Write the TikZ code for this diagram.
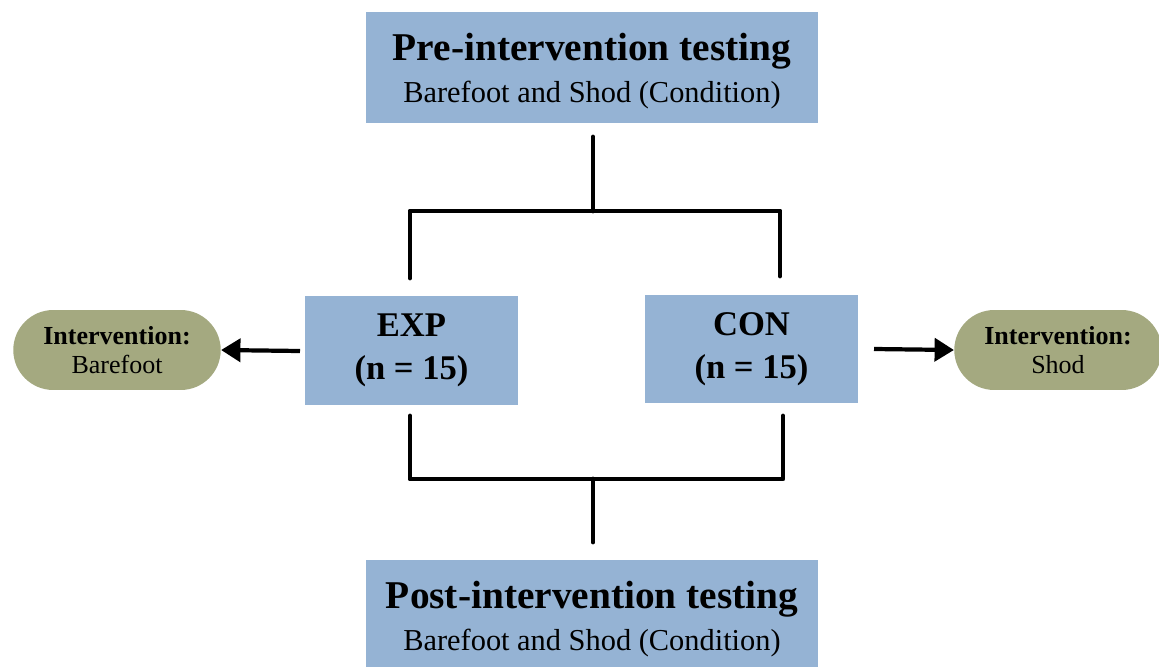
\documentclass[tikz,border=0pt]{standalone}
\usepackage{fontspec}
\setmainfont{Liberation Serif}
\usetikzlibrary{positioning}
\usetikzlibrary{arrows.meta}
\usetikzlibrary{shapes.misc}
\definecolor{boxblue}{HTML}{95B3D4}
\definecolor{pillolive}{HTML}{A4A980}
\tikzset{
        boxnode/.style={align=center,inner sep=0pt},
        % Testing boxes
        node_testing/.style={boxnode, rectangle, fill=boxblue, minimum width=9.04cm, minimum height=2.22cm, font=\fontsize{17.3}{21.5}\selectfont},
        % Group boxes
        node_group/.style={boxnode, rectangle, fill=boxblue, minimum width=4.26cm, minimum height=2.2cm, font=\fontsize{19.7}{24.5}\selectfont\bfseries},
        % Intervention pills
        node_pill/.style={boxnode, rounded rectangle, fill=pillolive, minimum width=4.15cm, minimum height=1.6cm, font=\fontsize{14.8}{16.5}\selectfont},
        % Bracket lines
        bracket/.style={line width=2.8pt, line cap=round, line join=round},
        % Arrows
        link/.style={line width=2.4pt, -{Triangle[length=11pt,width=13pt]}}
}
\newcommand{\testtitle}[2]{{\fontsize{22.4}{26}\selectfont\bfseries #1}\\[2.5pt]{#2}}
\begin{document}
\begin{tikzpicture}[x=0.02cm, y=-0.02cm]
            \useasboundingbox (0,0) rectangle (1159,666);
            \node[node_testing, text depth=0pt] (pre) at (592,67.5) {\testtitle{Pre-intervention testing}{Barefoot and Shod (Condition)}};
            \node[node_group] (exp) at (411.5,350.5) {EXP\\(n = 15)};
            \node[node_group, minimum height=2.16cm] (con) at (751.5,349) {CON\\(n = 15)};
            \node[node_pill] (barefoot) at (117,350) {\textbf{Intervention:}\\Barefoot};
            \node[node_pill] (shod) at (1058,350) {\textbf{Intervention:}\\Shod};
            \node[node_testing, minimum height=2.24cm, text depth=0pt] (post) at (592,616) {\testtitle{Post-intervention testing}{Barefoot and Shod (Condition)}};
            % upper bracket
            \coordinate (pre_stem) at (593,137);
            \coordinate (pre_join) at (593,211);
            \coordinate (exp_top) at (410,278);
            \coordinate (con_top) at (780,276);
            \draw[bracket] (pre_stem) -- (pre_join);
            \draw[bracket] (exp_top) -- (exp_top |- pre_join) -- (con_top |- pre_join) -- (con_top);
            % lower bracket
            \coordinate (exp_bot) at (410,416);
            \coordinate (con_bot) at (783,416);
            \coordinate (post_join) at (593,479);
            \coordinate (post_stem) at (593,542);
            \draw[bracket] (exp_bot) -- (exp_bot |- post_join) -- (con_bot |- post_join) -- (con_bot);
            \draw[bracket] (post_join) -- (post_stem);
            % arrows
            \coordinate (exp_out) at (300,351);
            \coordinate (con_out) at (874,349);
            \draw[link] (exp_out) -- (barefoot.east);
            \draw[link] (con_out) -- (shod.west);
        \end{tikzpicture}
\end{document}
